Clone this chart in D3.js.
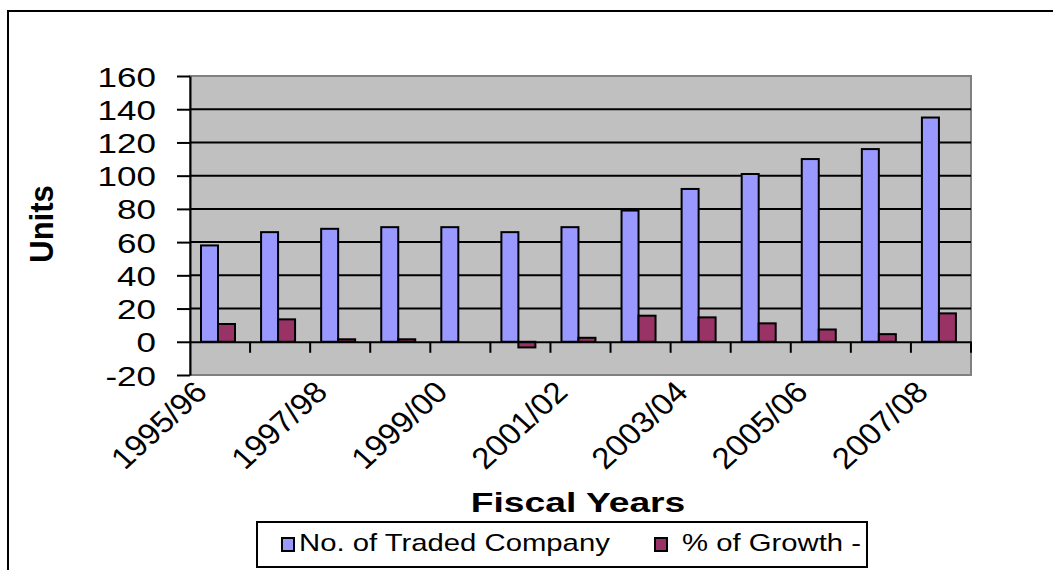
<!DOCTYPE html>
<html>
<head>
<meta charset="utf-8">
<script src="https://cdn.jsdelivr.net/npm/d3@7"></script>
<style>
  html, body { margin: 0; padding: 0; background: #fff; }
  svg { display: block; }
  text { font-family: "Liberation Sans", Arial, sans-serif; fill: #000; }
</style>
</head>
<body>
<svg id="chart" width="1053" height="570"></svg>
<script>
const categories = ["1995/96","1996/97","1997/98","1998/99","1999/00","2000/01","2001/02","2002/03","2003/04","2004/05","2005/06","2006/07","2007/08"];
const tradedCompanies = [58, 66, 68, 69, 69, 66, 69, 79, 92, 101, 110, 116, 135];
const growthPct = [10.7, 13.5, 1.5, 1.5, 0, -3.4, 2.4, 15.7, 14.7, 11.1, 7.4, 4.6, 17.1];
const yTicks = [-20, 0, 20, 40, 60, 80, 100, 120, 140, 160];
const seriesNames = ["No. of Traded Company", "% of Growth -"];
const seriesColors = ["#9999FF", "#993366"];

const svg = d3.select("#chart");
const plot = {left: 190, right: 971, top: 76, bottom: 375};
const STRETCH = 1.25;

// outer chart border
svg.append("rect").attr("x", 8).attr("y", 11).attr("width", 1100).attr("height", 600)
  .attr("fill", "#fff").attr("stroke", "#000").attr("stroke-width", 2);

const x = d3.scaleBand().domain(categories).range([plot.left, plot.right]).padding(0);
const y = d3.scaleLinear().domain([-20, 160]).range([plot.bottom, plot.top]);

// plot area
svg.append("rect").attr("x", plot.left).attr("y", plot.top)
  .attr("width", plot.right - plot.left).attr("height", plot.bottom - plot.top)
  .attr("fill", "#C0C0C0").attr("stroke", "#808080").attr("stroke-width", 2);

// gridlines
svg.append("g").selectAll("line").data(yTicks.filter(v => v > -20 && v < 160 && v !== 0)).join("line")
  .attr("x1", plot.left).attr("x2", plot.right)
  .attr("y1", d => y(d)).attr("y2", d => y(d))
  .attr("stroke", "#000").attr("stroke-width", 2);

// bars
const bw = 17;
const gOffset = 11;
const bars = svg.append("g");
bars.selectAll("rect.c").data(categories).join("rect").attr("class", "c")
  .attr("x", d => x(d) + gOffset)
  .attr("y", (d, i) => y(Math.max(0, tradedCompanies[i])))
  .attr("width", bw)
  .attr("height", (d, i) => Math.abs(y(tradedCompanies[i]) - y(0)))
  .attr("fill", seriesColors[0]).attr("stroke", "#000").attr("stroke-width", 2);
bars.selectAll("rect.g").data(categories).join("rect").attr("class", "g")
  .attr("x", d => x(d) + gOffset + bw)
  .attr("y", (d, i) => y(Math.max(0, growthPct[i])))
  .attr("width", bw)
  .attr("height", (d, i) => Math.abs(y(growthPct[i]) - y(0)))
  .attr("fill", seriesColors[1]).attr("stroke", "#000").attr("stroke-width", 2);

// y axis
const yAxis = d3.axisLeft(y).tickValues(yTicks).tickSize(13).tickSizeOuter(0).tickFormat(d3.format("d"));
const yg = svg.append("g").attr("transform", `translate(${plot.left},0)`).call(yAxis);
yg.select(".domain").attr("stroke", "#000").attr("stroke-width", 2);
yg.selectAll(".tick line").attr("stroke", "#000").attr("stroke-width", 2);
yg.selectAll(".tick text").remove();
yg.selectAll(".tick").append("text")
  .attr("transform", `translate(-34,10) scale(${STRETCH},1)`)
  .attr("text-anchor", "end")
  .attr("font-size", 28)
  .attr("fill", "#000")
  .text(d => d);

// x axis at zero
const xAxis = d3.axisBottom(x).tickSize(0).tickFormat("");
const xg = svg.append("g").attr("transform", `translate(0,${y(0)})`).call(xAxis);
xg.select(".domain").attr("stroke", "#000").attr("stroke-width", 2);
// category boundary ticks
const boundaries = categories.slice(1).map(c => x(c)).concat([plot.right]);
xg.append("g").selectAll("line").data(boundaries).join("line")
  .attr("x1", d => d).attr("x2", d => d).attr("y1", 0).attr("y2", 11)
  .attr("stroke", "#000").attr("stroke-width", 2);

// x labels (every other category)
const labelG = svg.append("g");
labelG.selectAll("text").data(categories.filter((c, i) => i % 2 === 0)).join("text")
  .attr("transform", d => `translate(${x(d) + x.bandwidth() / 2 - 11},394) scale(1.1,1) rotate(-45)`)
  .attr("text-anchor", "end")
  .attr("font-size", 30)
  .text(d => d);

// axis titles
svg.append("text")
  .attr("transform", `translate(578,512) scale(1.33,1)`)
  .attr("text-anchor", "middle").attr("font-size", 28).attr("font-weight", "bold")
  .text("Fiscal Years");
svg.append("text")
  .attr("transform", `translate(53,224) scale(1.08,1) rotate(-90)`)
  .attr("text-anchor", "middle").attr("font-size", 31).attr("font-weight", "bold")
  .text("Units");

// legend
const legend = svg.append("g");
legend.append("rect").attr("x", 257).attr("y", 522).attr("width", 610).attr("height", 45)
  .attr("fill", "#fff").attr("stroke", "#000").attr("stroke-width", 2);
const legendItems = [{sx: 282, tx: 299}, {sx: 655, tx: 682}];
seriesNames.forEach((name, i) => {
  legend.append("rect").attr("x", legendItems[i].sx).attr("y", 538).attr("width", 12).attr("height", 13)
    .attr("fill", seriesColors[i]).attr("stroke", "#000").attr("stroke-width", 2);
  legend.append("text")
    .attr("transform", `translate(${legendItems[i].tx},551) scale(1.22,1)`)
    .attr("font-size", 24)
    .text(name);
});
</script>
</body>
</html>
